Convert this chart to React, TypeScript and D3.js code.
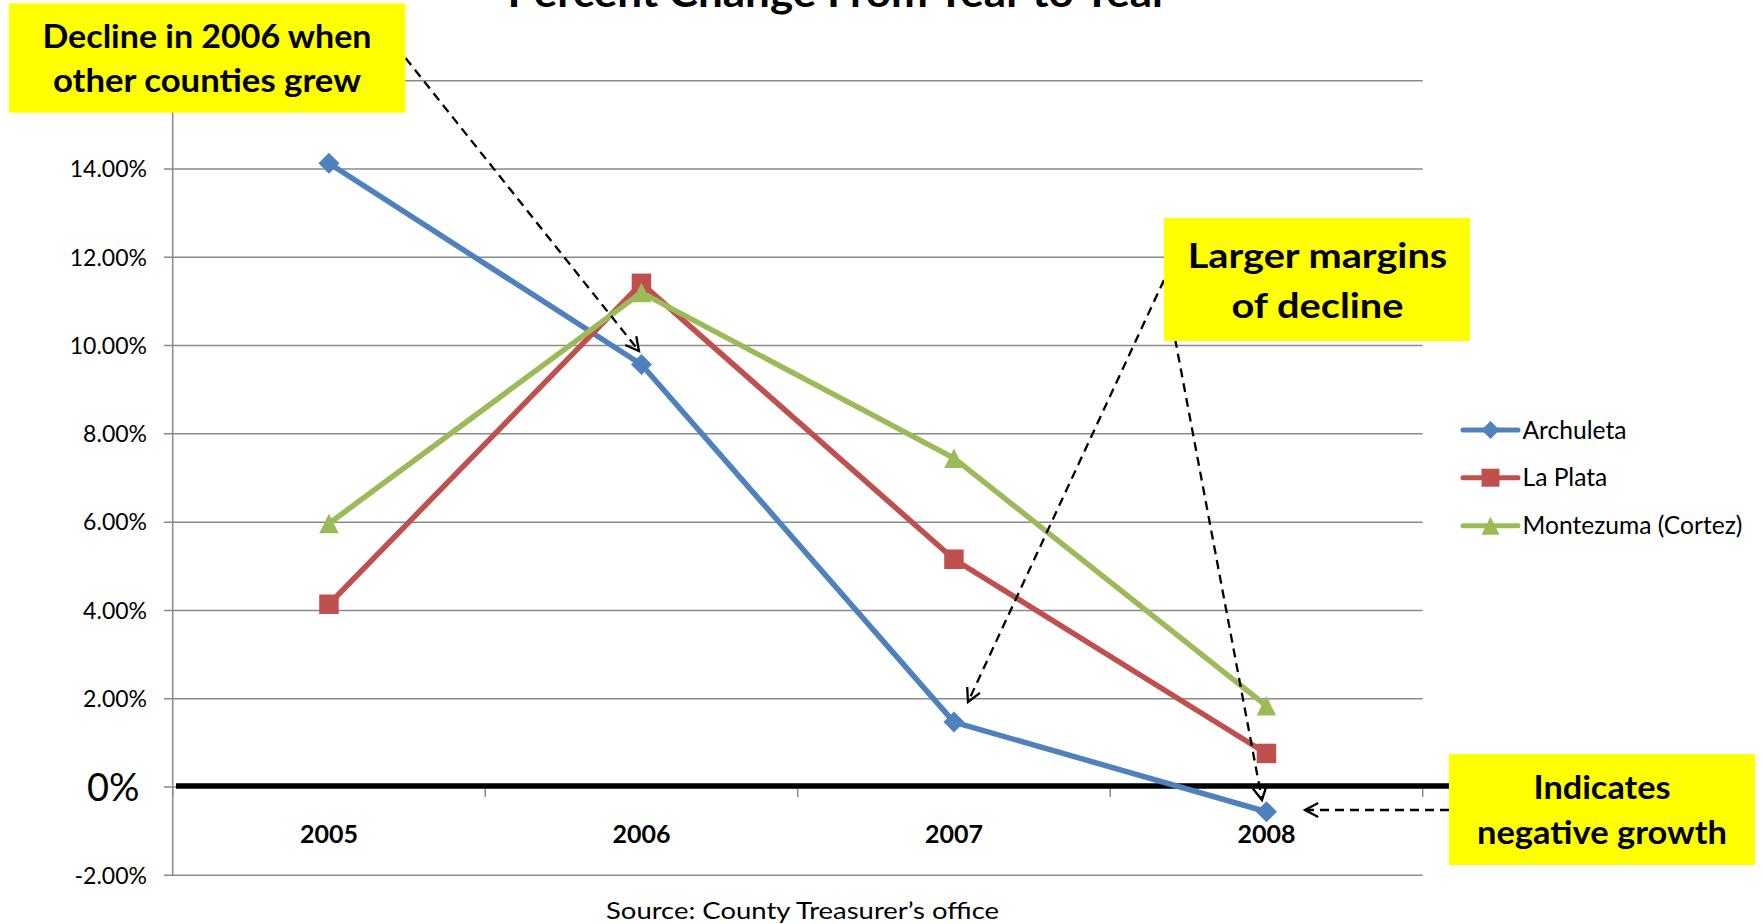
import React from 'react';
import * as d3 from 'd3';

const years = ['2005', '2006', '2007', '2008'];
const archuleta = [14.13, 9.57, 1.47, -0.56];
const laPlata = [4.14, 11.41, 5.16, 0.76];
const montezuma = [5.97, 11.2, 7.45, 1.84];
const yTicks = [-2, 0, 2, 4, 6, 8, 10, 12, 14, 16];
const seriesNames = ['Archuleta', 'La Plata', 'Montezuma (Cortez)'];
const seriesColors = ['#4F81BD', '#C0504D', '#9BBB59'];
const seriesMarkers = ['diamond', 'square', 'triangle'];
const title = 'Percent Change From Year to Year';
const source = 'Source: County Treasurer\u2019s office';

const W = 1762;
const H = 924;
const FONT = 'Lato, "Open Sans", sans-serif';

function markerPath(kind: string, cx: number, cy: number, s: number) {
  const h = s / 2;
  if (kind === 'diamond') return `M${cx},${cy - h}L${cx + h},${cy}L${cx},${cy + h}L${cx - h},${cy}Z`;
  if (kind === 'square') return `M${cx - h},${cy - h}H${cx + h}V${cy + h}H${cx - h}Z`;
  return `M${cx},${cy - h}L${cx + h},${cy + h}L${cx - h},${cy + h}Z`;
}

function Arrow({ x1, y1, x2, y2 }: { x1: number; y1: number; x2: number; y2: number }) {
  const ang = Math.atan2(y2 - y1, x2 - x1);
  const L = 15;
  const a = (28 * Math.PI) / 180;
  const p1 = [x2 - L * Math.cos(ang - a), y2 - L * Math.sin(ang - a)];
  const p2 = [x2 - L * Math.cos(ang + a), y2 - L * Math.sin(ang + a)];
  return (
    <g>
      <line x1={x1} y1={y1} x2={x2} y2={y2} stroke="#000" strokeWidth={2.3} strokeDasharray="9,6" />
      <path d={`M${p1[0]},${p1[1]}L${x2},${y2}L${p2[0]},${p2[1]}`} fill="none" stroke="#000" strokeWidth={2.3} />
    </g>
  );
}

export default function App() {
  const x = d3.scaleBand<string>().domain(years).range([172.7, 1422.7]);
  const y = d3.scaleLinear().domain([-2, 16]).range([875.3, 80.7]);
  const cx = (c: string) => (x(c) as number) + x.bandwidth() / 2;
  const data = [archuleta, laPlata, montezuma];
  const line = d3
    .line<number>()
    .x((_, i) => cx(years[i]))
    .y((d) => y(d));

  const fmt = (t: number) => (t === 0 ? '0%' : `${t.toFixed(2)}%`);
  const boundaries = years.map((c) => (x(c) as number) + x.bandwidth());

  const legendY = [430, 477.7, 525.7];

  return (
    <svg width={W} height={H} style={{ position: 'absolute', left: 0, top: 0, background: '#fff' }} fontFamily={FONT}>
      <rect x={0} y={0} width={W} height={H} fill="#fff" />
      {/* title */}
      <text x={838} y={7} textAnchor="middle" fontWeight="bold" fontSize={41} textLength={661} lengthAdjust="spacingAndGlyphs">
        {title}
      </text>
      {/* gridlines */}
      {yTicks.map((t) => (
        <g key={t}>
          <line x1={164} x2={1422.7} y1={y(t)} y2={y(t)} stroke="#8a8a8a" strokeWidth={1.5} />
          {t === 16 ? null : t === 0 ? (
            <text x={139.5} y={y(t) + 13.5} textAnchor="end" fontSize={38} fill="#000">
              {fmt(t)}
            </text>
          ) : (
            <text x={147} y={y(t) + 8.3} textAnchor="end" fontSize={23} fill="#000">
              {fmt(t)}
            </text>
          )}
        </g>
      ))}
      {/* y axis */}
      <line x1={172.7} x2={172.7} y1={y(16)} y2={y(-2)} stroke="#8a8a8a" strokeWidth={1.5} />
      {/* zero line */}
      <line x1={176} x2={1450} y1={y(0) - 1} y2={y(0) - 1} stroke="#000" strokeWidth={5.5} />
      {/* category tick marks */}
      {[172.7, ...boundaries].map((b, i) => (
        <line key={i} x1={b} x2={b} y1={y(0) + 2} y2={y(0) + 10} stroke="#8a8a8a" strokeWidth={1.5} />
      ))}
      {/* x labels */}
      {years.map((c) => (
        <text key={c} x={cx(c)} y={843} textAnchor="middle" fontWeight="bold" fontSize={25}>
          {c}
        </text>
      ))}
      {/* series */}
      {data.map((s, si) => (
        <g key={si}>
          <path d={line(s) || ''} fill="none" stroke={seriesColors[si]} strokeWidth={5.5} strokeLinejoin="round" />
          {s.map((v, i) => (
            <path key={i} d={markerPath(seriesMarkers[si], cx(years[i]), y(v), si === 0 ? 21 : 19.5)} fill={seriesColors[si]} />
          ))}
        </g>
      ))}
      {/* legend */}
      {seriesNames.map((n, i) => (
        <g key={n}>
          <line x1={1463} x2={1518} y1={legendY[i]} y2={legendY[i]} stroke={seriesColors[i]} strokeWidth={5} strokeLinecap="round" />
          <path d={markerPath(seriesMarkers[i], 1490.5, legendY[i], 18)} fill={seriesColors[i]} />
          <text x={1522.5} y={legendY[i] + 8.6} fontSize={24.6} fill="#000">
            {n}
          </text>
        </g>
      ))}
      {/* arrows */}
      <Arrow x1={405.5} y1={58} x2={639} y2={351} />
      <Arrow x1={1164} y1={280} x2={968} y2={702} />
      <Arrow x1={1164} y1={280} x2={1262} y2={800} />
      <Arrow x1={1449} y1={810} x2={1305} y2={810} />
      {/* annotation boxes */}
      <rect x={9} y={3.4} width={396.4} height={109.3} fill="#FFFF00" />
      <text x={207} y={47.7} textAnchor="middle" fontWeight="bold" fontSize={31.5} textLength={329} lengthAdjust="spacingAndGlyphs">
        Decline in 2006 when
      </text>
      <text x={207} y={91.7} textAnchor="middle" fontWeight="bold" fontSize={31.5} textLength={308} lengthAdjust="spacingAndGlyphs">
        other counties grew
      </text>
      <rect x={1164} y={218} width={306} height={123} fill="#FFFF00" />
      <text x={1317.5} y={268} textAnchor="middle" fontWeight="bold" fontSize={34.7} textLength={259.5} lengthAdjust="spacingAndGlyphs">
        Larger margins
      </text>
      <text x={1317.5} y={318} textAnchor="middle" fontWeight="bold" fontSize={34.7} textLength={172} lengthAdjust="spacingAndGlyphs">
        of decline
      </text>
      <rect x={1449} y={754} width={306} height={111} fill="#FFFF00" />
      <text x={1602} y={799} textAnchor="middle" fontWeight="bold" fontSize={33.3} textLength={137} lengthAdjust="spacingAndGlyphs">
        Indicates
      </text>
      <text x={1602} y={844} textAnchor="middle" fontWeight="bold" fontSize={33.3} textLength={250} lengthAdjust="spacingAndGlyphs">
        negative growth
      </text>
      {/* source */}
      <text x={802.5} y={919} textAnchor="middle" fontSize={23.5} textLength={393} lengthAdjust="spacingAndGlyphs">
        {source}
      </text>
    </svg>
  );
}
